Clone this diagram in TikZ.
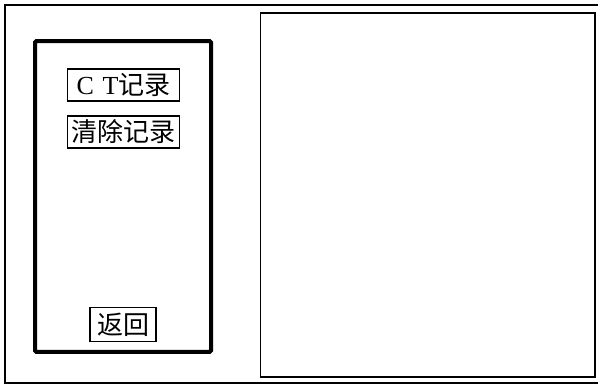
\documentclass[tikz,border=0pt]{standalone}
\usepackage{fontspec}
\setmainfont{Liberation Serif}
\newfontfamily\cjk{Noto Sans CJK SC}
\begin{document}
\begin{tikzpicture}[x=0.75pt,y=-0.75pt,
    btn/.style={draw,line width=0.9pt,inner sep=0pt,minimum width=84pt,minimum height=24pt,font=\fontsize{19.5}{19.5}\selectfont}]
        \useasboundingbox (0,0) rectangle (598,387);
        \clip (0,0) rectangle (598,387);
        \draw[line width=1.8pt] (5,5) rectangle (610,383);
        \node[draw,line width=1pt,minimum width=251pt,minimum height=273pt,inner sep=0pt] (screen) at (427.5,195) {};
        \node[draw,line width=3pt,rounded corners=1pt,minimum width=132pt,minimum height=233pt,inner sep=0pt] (menu) at (123,196.5) {};
        \node[btn] (ct) at (123.5,85) {C\,\,T{\cjk 记录}};
        \node[btn] (clear) at (123.5,132) {\cjk 清除记录};
        \node[btn,minimum width=49.5pt,minimum height=26pt] (back) at (123,324.5) {\cjk 返回};
      \end{tikzpicture}
\end{document}
